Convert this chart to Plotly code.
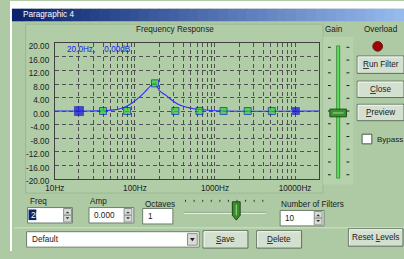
import plotly.graph_objects as go

W, H = 404, 259

# ---------------- data ----------------
curve_freq = [10, 25, 35, 45, 55, 65, 80, 95, 110, 125, 141, 158, 170, 178, 186, 195, 204,
              225, 249, 280, 314, 370, 444, 540, 643, 900, 1276, 20000]
curve_db = [0, 0, 0.05, 0.15, 0.35, 0.7, 1.5, 2.6, 3.8, 5.0, 6.3, 7.5, 8.1, 8.3, 7.6, 6.7, 6.0,
            5.2, 4.5, 3.5, 2.6, 1.7, 1.1, 0.7, 0.45, 0.15, 0.0, 0.0]

filter_freq = [20, 40, 80, 178, 320, 640, 1280, 2560, 5120, 10240]
filter_db = [0, 0, 0, 8.2, 0, 0, 0, 0, 0, 0]

y_ticks = [-20, -16, -12, -8, -4, 0, 4, 8, 12, 16, 20]
y_tick_labels = ["-20.00", "-16.00", "-12.00", "-8.00", "-4.00", "0.00",
                 "4.00", "8.00", "12.00", "16.00", "20.00"]
x_ticks = [10, 100, 1000, 10000]
x_tick_labels = ["10Hz", "100Hz", "1000Hz", "10000Hz"]

selected_label = "20.0Hz,    0.00dB"

# ---------------- helpers ----------------
def fx(x):
    return x / W

def fy(y):
    return 1 - y / H

BG = "#aecaa4"
FONT = "Liberation Sans"
FS = 8.2
shapes = []
annots = []

def rect(x0, y0, x1, y1, fill, line=None, lw=1, layer="below"):
    shapes.append(dict(type="rect", xref="paper", yref="paper",
                       x0=fx(x0), x1=fx(x1), y0=fy(y1), y1=fy(y0),
                       fillcolor=fill, line=dict(color=line or fill, width=lw if line else 0),
                       layer=layer))

def hline(x0, x1, y, color, lw=1, layer="above"):
    shapes.append(dict(type="line", xref="paper", yref="paper",
                       x0=fx(x0), x1=fx(x1), y0=fy(y), y1=fy(y),
                       line=dict(color=color, width=lw), layer=layer))

def vline(x, y0, y1, color, lw=1, layer="above"):
    shapes.append(dict(type="line", xref="paper", yref="paper",
                       x0=fx(x), x1=fx(x), y0=fy(y0), y1=fy(y1),
                       line=dict(color=color, width=lw), layer=layer))

def text(x, y, s, size=FS, color="#1a1a1a", xanchor="center"):
    annots.append(dict(x=fx(x), y=fy(y), xref="paper", yref="paper", text=s,
                       showarrow=False, xanchor=xanchor, yanchor="middle",
                       font=dict(family=FONT, size=size, color=color)))

def button(x0, y0, x1, y1, label):
    rect(x0, y0, x1, y1, "#d3dfcf", "#5f6f5c", 1, layer="above")
    hline(x0 + 1, x1 - 1, y0 + 1, "#f4f8f2", 1)
    vline(x0 + 1, y0 + 1, y1 - 1, "#f4f8f2", 1)
    text((x0 + x1) / 2, (y0 + y1) / 2, label)

def textbox(x0, y0, x1, y1):
    rect(x0, y0, x1, y1, "#ffffff", "#6d7f6a", 1, layer="above")

def spinner(x0, y0, x1, y1):
    ym = (y0 + y1) / 2
    rect(x0, y0, x1, ym, "#d8dcd6", "#8a9088", 1, layer="above")
    rect(x0, ym, x1, y1, "#d8dcd6", "#8a9088", 1, layer="above")
    cx = (x0 + x1) / 2
    shapes.append(dict(type="path", xref="paper", yref="paper",
                       path=f"M {fx(cx-2)} {fy(ym-2)} L {fx(cx+2)} {fy(ym-2)} L {fx(cx)} {fy(ym-4)} Z",
                       fillcolor="#333", line=dict(width=0), layer="above"))
    shapes.append(dict(type="path", xref="paper", yref="paper",
                       path=f"M {fx(cx-2)} {fy(ym+2)} L {fx(cx+2)} {fy(ym+2)} L {fx(cx)} {fy(ym+4)} Z",
                       fillcolor="#333", line=dict(width=0), layer="above"))

# ---------------- window chrome ----------------
rect(0, 0, 404, 8, "#ffffff")
rect(0, 0, 2, 259, "#ffffff")
n = 40
c0 = (10, 36, 110)
c1 = (150, 185, 238)
for i in range(n):
    t = i / (n - 1)
    c = tuple(int(c0[k] + (c1[k] - c0[k]) * t) for k in range(3))
    rect(2 + i * 402 / n, 8, 2 + (i + 1) * 402 / n + 0.6, 21, "rgb(%d,%d,%d)" % c)
text(11, 14.5, "Paragraphic 4", color="#ffffff", xanchor="left")

# panels
rect(16, 24, 321, 199, "#b1cda8", "#9ab892", 1)
rect(321, 37, 352, 190, "#b6d2ad")
hline(4, 404, 235, "#cfe3c8", 1, layer="below")

text(169, 29.5, "Frequency Response")
text(332, 30, "Gain")
text(380, 30, "Overload")

# overload LED
shapes.append(dict(type="circle", xref="paper", yref="paper",
                   x0=fx(372), x1=fx(382), y0=fy(52), y1=fy(42),
                   fillcolor="#a30000", line=dict(color="#5a2020", width=1), layer="above"))

button(356, 57, 404, 75, "<u>R</u>un Filter")
button(356, 83, 404, 100, "<u>C</u>lose")
button(356, 107, 404, 124, "<u>P</u>review")

# bypass checkbox
rect(361, 138, 371, 148, "#ffffff", "#4a5a48", 1, layer="above")
text(374, 143, "Bypass", size=8, xanchor="left")

# gain slider
for k in range(11):
    y = 48 + 13.2 * k
    hline(326, 329, y, "#202020", 1)
    hline(345, 348, y, "#202020", 1)
vline(336.5, 46, 184, "#3f8f3f", 4)
vline(336.5, 47, 183, "#5ee05e", 2)
rect(328, 112, 345, 120, "#3d8f2f", "#1f4f1a", 1, layer="above")
hline(331, 342, 116, "#9be08f", 1)

# ---------------- bottom controls ----------------
text(18, 208, "Freq", xanchor="left")
textbox(18, 214, 64, 230)
rect(19, 216, 27, 227, "#0a246a", layer="above")
text(19.5, 222, "20", color="#ffffff", xanchor="left")
spinner(55, 215, 63, 229)

text(80, 208, "Amp", xanchor="left")
textbox(81, 214, 127, 230)
text(110, 222, "0.000", xanchor="right")
spinner(117, 215, 125, 229)

text(136, 211, "Octaves", xanchor="left")
textbox(136, 215, 167, 231)
text(139, 223, "1", xanchor="left")

# horizontal slider
for k in range(10):
    x = 180 + 8.8 * k
    vline(x, 206, 208, "#303030", 1)
hline(178, 262, 219, "#8a9a86", 1)
hline(178, 262, 220, "#f0f6ee", 1)
shapes.append(dict(type="path", xref="paper", yref="paper",
                   path=(f"M {fx(228)} {fy(208)} L {fx(236)} {fy(208)} L {fx(236)} {fy(222)} "
                         f"L {fx(232)} {fy(227)} L {fx(228)} {fy(222)} Z"),
                   fillcolor="#3c8a2e", line=dict(color="#1d4a16", width=1), layer="above"))
vline(232, 211, 222, "#9be08f", 1)

text(276, 211, "Number of Filters", xanchor="left")
textbox(277, 217, 322, 233)
text(280, 225, "10", xanchor="left")
spinner(312, 218, 320, 232)

# combo
textbox(17, 239, 194, 255)
text(21, 247, "Default", xanchor="left")
rect(182, 241, 192, 253, "#d8dcd6", "#8a9088", 1, layer="above")
shapes.append(dict(type="path", xref="paper", yref="paper",
                   path=f"M {fx(184.5)} {fy(245.5)} L {fx(189.5)} {fy(245.5)} L {fx(187)} {fy(249)} Z",
                   fillcolor="#222", line=dict(width=0), layer="above"))

button(198, 238, 244, 256, "<u>S</u>ave")
button(253, 238, 299, 256, "<u>D</u>elete")
button(347, 236, 403, 254, "Reset <u>L</u>evels")

# ---------------- chart ----------------
fig = go.Figure()
fig.add_trace(go.Scatter(x=curve_freq, y=curve_db, mode="lines",
                         line=dict(color="#2d2dff", width=1.1, shape="spline", smoothing=0.8),
                         hoverinfo="skip"))

mk_color = ["#1010e0"] + ["#22dd22"] * 8 + ["#1010e0"]
mk_size = [9] + [7] * 8 + [7]
fig.add_trace(go.Scatter(x=filter_freq, y=filter_db, mode="markers",
                         marker=dict(symbol="square", size=mk_size, color=mk_color,
                                     line=dict(color="#1a1ac0", width=1))))

annots.append(dict(x=fx(56), y=fy(50), xref="paper", yref="paper", text=selected_label,
                   showarrow=False, xanchor="left", yanchor="middle",
                   font=dict(family=FONT, size=FS, color="#2020ff")))

GRID = "#505050"
fig.update_layout(
    width=W, height=H,
    margin=dict(l=0, r=0, t=0, b=0),
    paper_bgcolor=BG, plot_bgcolor="#ffffff",
    showlegend=False,
    shapes=shapes, annotations=annots,
    xaxis=dict(type="log", range=[1, 4.301], domain=[fx(46), fx(317)],
               tickvals=x_ticks, ticktext=x_tick_labels,
               ticks="", tickfont=dict(family=FONT, size=FS, color="#1a1a1a"),
               showgrid=True, gridcolor=GRID, griddash="4px,3px", gridwidth=1,
               minor=dict(dtick="D1", showgrid=True, gridcolor=GRID, griddash="4px,3px", gridwidth=1),
               showline=True, linecolor="#404040", linewidth=1, mirror=True,
               zeroline=False, fixedrange=True, ticklabelstandoff=2),
    yaxis=dict(range=[-20, 20], domain=[fy(184), fy(44)],
               tickvals=y_ticks, ticktext=y_tick_labels,
               ticks="", tickfont=dict(family=FONT, size=FS, color="#1a1a1a"),
               showgrid=True, gridcolor=GRID, griddash="4px,3px", gridwidth=1,
               showline=True, linecolor="#404040", linewidth=1, mirror=True,
               zeroline=False, fixedrange=True, ticklabelshift=3, ticklabelstandoff=3),
)

fig.write_html("out.html", config={"displayModeBar": False},
               post_script="document.body.style.margin='0px';")
